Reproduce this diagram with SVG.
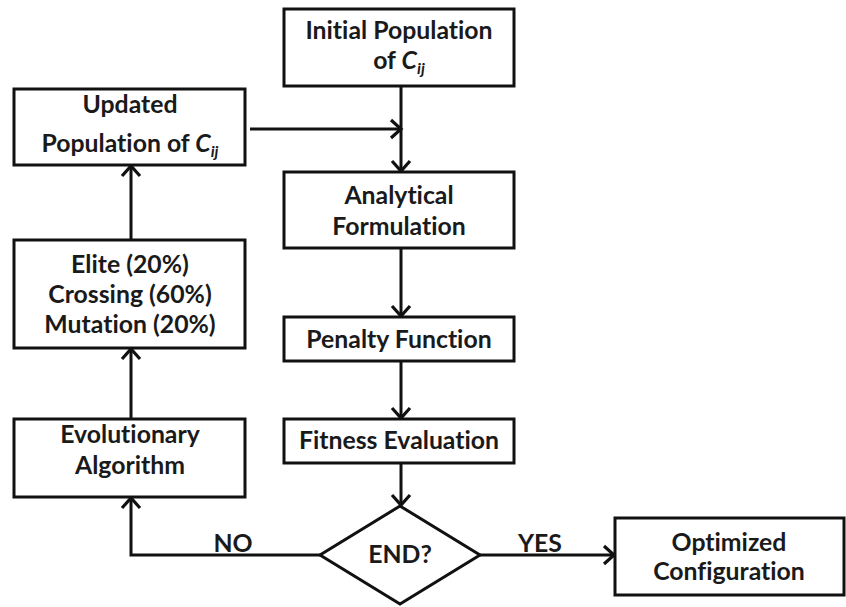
<svg xmlns="http://www.w3.org/2000/svg" width="846" height="607" viewBox="0 0 846 607">
<style>
.box{fill:#fff;stroke:#111;stroke-width:3}
.t{font-family:Lato,"Open Sans","Liberation Sans",sans-serif;font-weight:bold;font-size:24.8px;fill:#1a1a1a;text-anchor:middle;font-variant-ligatures:none}
.c{fill:none;stroke:#111;stroke-width:3}
.sub{font-size:16px;font-style:italic}
</style>
<defs>
<marker id="arr" markerUnits="userSpaceOnUse" markerWidth="16" markerHeight="22" refX="12" refY="11" orient="auto">
<path d="M2,2 L12,11 L2,20" fill="none" stroke="#111" stroke-width="3.2"/>
</marker>
</defs>
<rect width="846" height="607" fill="#fff"/>
<g id="connectors">
<line class="c" x1="401" y1="86" x2="401" y2="171" marker-end="url(#arr)"/>
<line class="c" x1="250" y1="129" x2="401" y2="129" marker-end="url(#arr)"/>
<line class="c" x1="401" y1="248" x2="401" y2="316" marker-end="url(#arr)"/>
<line class="c" x1="401" y1="361" x2="401" y2="418" marker-end="url(#arr)"/>
<line class="c" x1="401" y1="463" x2="401" y2="505" marker-end="url(#arr)"/>
<polyline class="c" points="320,555 131,555 131,498" marker-end="url(#arr)"/>
<line class="c" x1="131" y1="419" x2="131" y2="349" marker-end="url(#arr)"/>
<line class="c" x1="131" y1="240" x2="131" y2="166" marker-end="url(#arr)"/>
<line class="c" x1="480" y1="555" x2="614" y2="555" marker-end="url(#arr)"/>
<text class="t" x="233" y="552">NO</text>
<text class="t" x="540" y="552">YES</text>
</g>
<g id="initial">
<rect class="box" x="284" y="9" width="230" height="77"/>
<text class="t" x="399" y="39">Initial Population</text>
<text class="t" x="399" y="69">of <tspan font-style="italic">C</tspan><tspan class="sub" dy="5">ij</tspan></text>
</g>
<g id="updated">
<rect class="box" x="14" y="89" width="231" height="76"/>
<text class="t" x="130" y="113">Updated</text>
<text class="t" x="130" y="152">Population of <tspan font-style="italic">C</tspan><tspan class="sub" dy="5">ij</tspan></text>
</g>
<g id="analytical">
<rect class="box" x="284" y="172" width="230" height="76"/>
<text class="t" x="399" y="204">Analytical</text>
<text class="t" x="399" y="235">Formulation</text>
</g>
<g id="genetic-ops">
<rect class="box" x="14" y="240" width="231" height="108"/>
<text class="t" x="130" y="273">Elite (20%)</text>
<text class="t" x="130" y="303">Crossing (60%)</text>
<text class="t" x="130" y="333">Mutation (20%)</text>
</g>
<g id="penalty">
<rect class="box" x="284" y="317" width="230" height="44"/>
<text class="t" x="399" y="348">Penalty Function</text>
</g>
<g id="fitness">
<rect class="box" x="284" y="419" width="230" height="44"/>
<text class="t" x="399" y="449">Fitness Evaluation</text>
</g>
<g id="evolutionary">
<rect class="box" x="14" y="419" width="231" height="78"/>
<text class="t" x="130" y="443">Evolutionary</text>
<text class="t" x="130" y="474">Algorithm</text>
</g>
<g id="end">
<polygon class="box" points="400,506 480,555 400,604 320,555"/>
<text class="t" x="400" y="563">END?</text>
</g>
<g id="optimized">
<rect class="box" x="615" y="518" width="229" height="77"/>
<text class="t" x="729" y="551">Optimized</text>
<text class="t" x="729" y="580">Configuration</text>
</g>
</svg>
